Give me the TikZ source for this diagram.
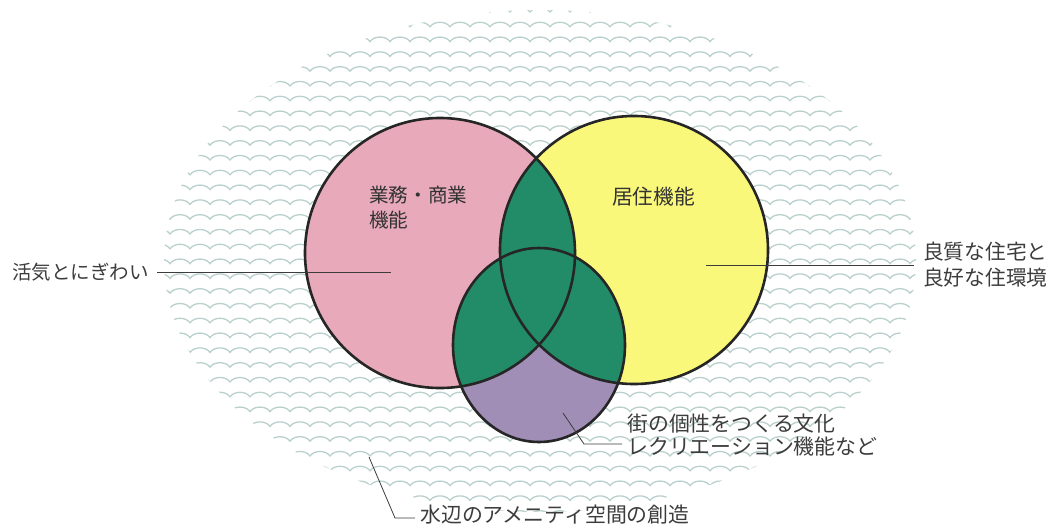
\documentclass[tikz,border=0pt]{standalone}
\usepackage{fontspec}
\setmainfont{Noto Sans CJK JP}
\usepackage{xcolor}
\usepackage{tikz}
\usetikzlibrary{positioning}
\definecolor{wave}{RGB}{185,208,205}
\definecolor{biz}{RGB}{232,170,186}
\definecolor{home}{RGB}{250,248,122}
\definecolor{mix}{RGB}{34,140,104}
\definecolor{culture}{RGB}{160,142,182}
\definecolor{ink}{RGB}{60,60,60}

\begin{document}
\begin{tikzpicture}[x=1pt, y=-1pt, font=\fontsize{20.7}{26}\selectfont,
    tag/.style={text=ink, inner sep=0pt, align=left},
    ring/.style={draw=black!85, line width=2.6pt},
    leader/.style={draw=ink, line width=0.8pt}]
    \useasboundingbox (0,0) rectangle (1054,527);

    % Water surface: rows of small waves inside an oval
    \begin{scope}
        \clip (540,261) ellipse [x radius=376, y radius=251];
        \foreach \r in {0,...,34} {
            \pgfmathsetmacro{\y}{12+\r*14.8}
            \draw[wave, line width=1.3pt] (150,\y)
                \foreach \x in {150,170,...,910} { .. controls (\x+4,\y-6) and (\x+16,\y-6) .. (\x+20,\y) };
        }
    \end{scope}

    % The three functions
    \coordinate (bizC) at (440,253);
    \coordinate (homeC) at (634,250);
    \coordinate (cultC) at (539,345);
    \fill[biz] (bizC) circle [radius=135];
    \fill[home] (homeC) circle [radius=134];
    \fill[culture] (cultC) ellipse [x radius=86, y radius=97];

    % Overlaps in green
    \begin{scope}
        \clip (bizC) circle [radius=135];
        \fill[mix] (homeC) circle [radius=134];
        \fill[mix] (cultC) ellipse [x radius=86, y radius=97];
    \end{scope}
    \begin{scope}
        \clip (homeC) circle [radius=134];
        \fill[mix] (cultC) ellipse [x radius=86, y radius=97];
    \end{scope}

    \draw[ring] (bizC) circle [radius=135];
    \draw[ring] (homeC) circle [radius=134];
    \draw[ring] (cultC) ellipse [x radius=86, y radius=97];

    % Names inside the circles
    \node[tag, text=black!80, font=\fontsize{19.6}{25}\selectfont, anchor=west] (bizText) at (369,208) {業務・商業\\機能};
    \node[tag, text=black!80, anchor=west] (homeText) at (612,197) {居住機能};

    % Labels and leaders
    \node[tag, font=\fontsize{19.5}{26}\selectfont, anchor=east] (vitality) at (149,272) {活気とにぎわい};
    \coordinate (vitalityPt) at (391,272);
    \draw[leader, shorten <=8pt] (vitality) -- (vitalityPt);

    \node[tag, anchor=west] (housing) at (923,265) {良質な住宅と\\良好な住環境};
    \coordinate (housingPt) at (706,265);
    \draw[leader, shorten >=9pt] (housingPt) -- (housing);

    \node[tag, font=\fontsize{20.9}{23}\selectfont, anchor=west] (cultText) at (627,435) {街の個性をつくる文化\\レクリエーション機能など};
    \coordinate (cultPt) at (563,413);
    \coordinate (cultBend) at (584,444);
    \draw[leader, shorten >=5pt] (cultPt) -- (cultBend) -- (cultBend -| cultText.west);

    \node[tag, font=\fontsize{20.9}{26}\selectfont, anchor=west] (water) at (420,515) {水辺のアメニティ空間の創造};
    \coordinate (waterPt) at (369,457);
    \coordinate (waterBend) at (395,518);
    \draw[leader, shorten >=5pt] (waterPt) -- (waterBend) -- (waterBend -| water.west);
\end{tikzpicture}
\end{document}
